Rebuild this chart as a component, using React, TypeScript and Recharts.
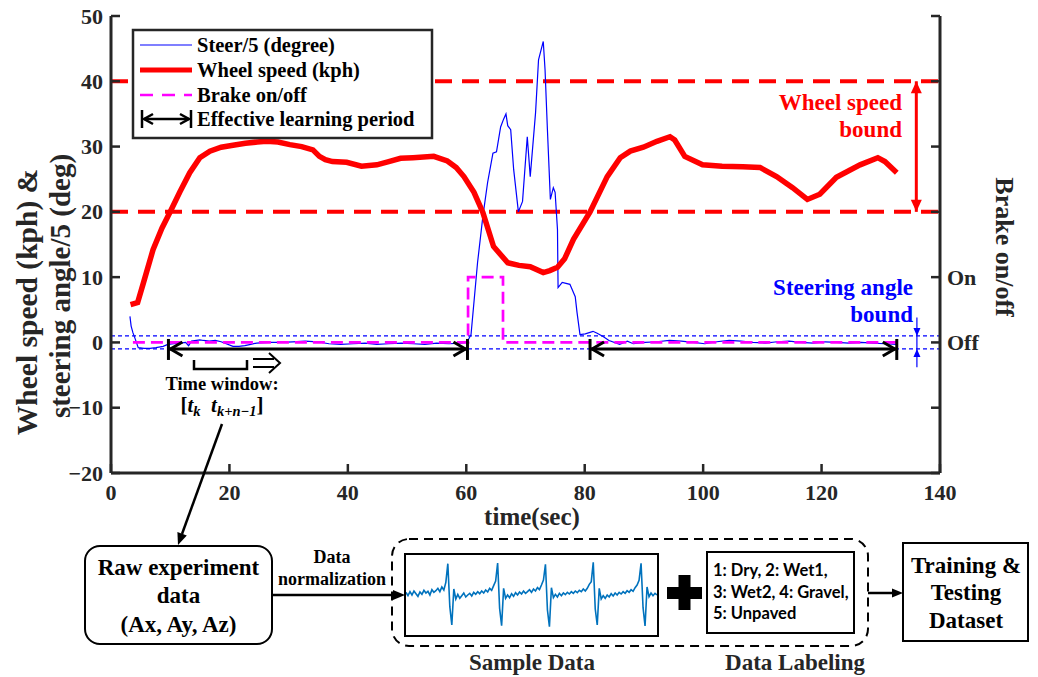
import React from "react";
import { LineChart, Line, XAxis, YAxis, ReferenceLine } from "recharts";

// ---- data ----
const xTicks = [0, 20, 40, 60, 80, 100, 120, 140];
const yTicks = [-20, -10, 0, 10, 20, 30, 40, 50];
const brakeTickLabels: Record<number, string> = { 10: "On", 0: "Off" };

const speedTime = [3.3, 4.5, 5.5, 7.1, 8.6, 10.0, 11.6, 13.3, 15.0, 16.7, 18.6, 20.6, 22.7, 24.7, 26.3, 28.2, 30.2, 32.2, 34.1, 35.2, 36.2, 37.4, 39.8, 42.3, 44.9, 46.9, 48.9, 51.0, 54.5, 56.8, 58.3, 59.6, 61.3, 62.8, 64.6, 67.0, 68.9, 70.8, 73.0, 74.1, 75.4, 76.6, 78.1, 80.9, 83.8, 86.0, 87.7, 89.9, 92.2, 94.4, 95.2, 96.9, 99.9, 103.2, 106.7, 109.6, 112.4, 115.1, 117.6, 119.7, 122.5, 126.5, 129.5, 130.7, 132.7];
const speedKph = [5.8, 6.1, 9.2, 14.2, 17.5, 20, 23, 26, 28.3, 29.3, 29.9, 30.2, 30.5, 30.7, 30.8, 30.7, 30.3, 30.0, 29.5, 28.5, 28.0, 27.7, 27.6, 27.0, 27.2, 27.7, 28.2, 28.3, 28.5, 27.8, 26.8, 25.4, 23.0, 19.9, 14.7, 12.2, 11.8, 11.6, 10.7, 11.0, 11.5, 12.8, 15.8, 20.0, 25.4, 28.3, 29.3, 29.9, 30.8, 31.5, 31.0, 28.5, 27.2, 27.0, 26.9, 26.8, 25.4, 23.7, 21.9, 22.7, 25.3, 27.2, 28.3, 27.7, 26.0];

const steerTime = [3.2, 3.4, 3.7, 4.1, 4.6, 5.6, 6.6, 7.6, 8.8, 9.6, 10.6, 11.6, 12.6, 13.1, 13.6, 15.0, 15.6, 16.6, 17.6, 18.6, 20.6, 21.6, 22.6, 23.6, 24.6, 26.7, 28.7, 30.7, 32.8, 34.8, 36.8, 38.8, 40.9, 42.9, 44.9, 46.9, 49.0, 51.0, 53.0, 55.0, 57.1, 59.1, 60.1, 60.8, 61.9, 62.8, 63.6, 64.5, 65.1, 65.8, 66.3, 66.7, 67.0, 67.5, 68.0, 68.8, 69.5, 70.3, 70.8, 71.7, 72.2, 73.0, 73.3, 73.7, 74.2, 74.7, 75.0, 75.4, 75.5, 76.2, 77.5, 78.4, 78.7, 79.2, 80.1, 81.4, 82.1, 83.1, 84.1, 85.9, 87.2, 88.2, 90.2, 92.2, 94.3, 96.3, 98.3, 100.3, 102.3, 104.4, 106.4, 108.4, 110.5, 112.5, 114.5, 116.5, 118.6, 120.6, 122.6, 124.6, 126.7, 128.7, 130.7, 132.7];
const steerDeg5 = [4.0, 2.5, 1.5, 0.5, -0.8, -0.9, -0.9, -0.8, -0.6, -0.3, -0.2, -0.1, 0.0, -0.5, 0.2, 0.4, 0.3, 0.2, 0.3, 0.1, -0.6, -0.6, -0.5, -0.3, -0.1, 0.0, 0.0, 0.1, 0.2, 0.1, -0.2, -0.3, -0.2, -0.1, -0.3, -0.2, -0.1, -0.2, -0.3, -0.1, -0.2, -0.1, 0.0, 1.2, 12.2, 19.3, 24.5, 29.0, 29.2, 33.0, 34.2, 35.0, 33.2, 32.6, 26.5, 20.0, 21.6, 31.5, 25.4, 35.2, 43.3, 46.1, 41.8, 32.6, 21.9, 23.7, 23.0, 17.3, 8.4, 9.2, 8.9, 7.0, 4.6, 1.2, 1.3, 1.7, 1.4, 0.9, 0.3, -0.3, 0.2, -0.2, 0.0, 0.1, 0.3, 0.2, 0.0, -0.2, 0.1, 0.3, 0.2, 0.0, -0.1, 0.1, 0.2, 0.0, -0.1, 0.1, 0.0, -0.1, 0.0, -0.1, -0.2, -0.3];

const brakeTime = [3.7, 60.3, 66.2, 132.7];
const brakeState = [0, 10, 0, 0];

const speedBounds = [40, 20];
const steerBounds = [1, -1];
const learningPeriods = [[9.7, 60.2], [80.9, 132.7]];

const sampleSignal = [
  0.08, -0.02, 0.1, 0.0, 0.12, 0.04, -0.04, 0.09, 0.02, 0.14, 0.06, 0.11, 0.0, 0.16, 0.08, 0.13, 0.2, 0.1, 0.24, 0.15,
  0.38, 0.94, -0.35, -0.9, 0.18, -0.12,
  0.02, -0.1, -0.02, 0.06, -0.06, 0.0, 0.05, -0.03, 0.08, 0.02, 0.1, 0.04, 0.12, 0.06, 0.15, 0.09, 0.2, 0.14,
  0.28, 0.42, 0.96, -0.4, -0.92, 0.2,
  -0.1, 0.0, -0.08, 0.04, -0.04, 0.07, 0.0, 0.09, 0.03, 0.12, 0.05, 0.1, 0.16, 0.08, 0.18, 0.12, 0.22, 0.16,
  0.3, 0.45, 0.92, -0.45, -0.95, 0.22,
  -0.08, 0.02, -0.06, 0.05, -0.02, 0.06, 0.01, 0.08, 0.03, 0.1, 0.05, 0.12, 0.07, 0.14, 0.1, 0.18, 0.12, 0.2,
  0.32, 0.4, 0.98, -0.42, -0.9, 0.2,
  -0.12, -0.02, -0.1, 0.0, -0.06, 0.04, -0.03, 0.06, 0.0, 0.08, 0.03, 0.1, 0.05, 0.13, 0.08, 0.16, 0.11, 0.22,
  0.3, 0.44, 0.95, -0.38, -0.93, 0.24,
  -0.05, 0.06, -0.02, 0.05, 0.0,
];
const labelLines = ["1: Dry, 2: Wet1,", "3: Wet2, 4: Gravel,", "5: Unpaved"];

// ---- tables for recharts ----
const zip = (ts: number[], vs: number[]) => ts.map((t, i) => ({ t, v: vs[i] }));
const speedData = zip(speedTime, speedKph);
const steerData = zip(steerTime, steerDeg5);
const brakeData = zip(brakeTime, brakeState);
const speedArrowData = speedBounds.map((v) => ({ t: 136, v }));
const steerArrowData = [3.8, ...steerBounds, -3.8].map((v) => ({ t: 136.1, v }));
const sampleData = sampleSignal.map((v, i) => ({ i, v }));

const SERIF = "Liberation Serif";
const INK = "#262626";
const RED = "#FF0000";
const BLUE = "#0000FF";
const MAGENTA = "#FF00FF";
const fmt = (n: number) => (n < 0 ? "\u2212" + Math.abs(n) : String(n));

const serifStyle = { fontFamily: SERIF, fontWeight: 700 };
const txt = { style: serifStyle, fill: INK };

const BottomTick = (p: any) => {
  const ay = p.y - 10;
  return (
    <g>
      <line x1={p.x} x2={p.x} y1={ay} y2={ay - 9} stroke={INK} strokeWidth={2.5} />
      <text x={p.x} y={ay + 27} textAnchor="middle" fontSize={22} {...txt}>{fmt(p.payload.value)}</text>
    </g>
  );
};
const TopTick = (p: any) => {
  const ay = p.y + 10;
  return <line x1={p.x} x2={p.x} y1={ay} y2={ay + 9} stroke={INK} strokeWidth={2.5} />;
};
const LeftTick = (p: any) => {
  const ax = p.x + 10;
  return (
    <g>
      <line x1={ax} x2={ax + 9} y1={p.y} y2={p.y} stroke={INK} strokeWidth={2.5} />
      <text x={ax - 8} y={p.y + 7.5} textAnchor="end" fontSize={22} {...txt}>{fmt(p.payload.value)}</text>
    </g>
  );
};
const RightTick = (p: any) => {
  const ax = p.x - 10;
  const label = brakeTickLabels[p.payload.value];
  return (
    <g>
      <line x1={ax} x2={ax - 9} y1={p.y} y2={p.y} stroke={INK} strokeWidth={2.5} />
      {label && <text x={ax + 7} y={p.y + 7.5} textAnchor="start" fontSize={22} {...txt}>{label}</text>}
    </g>
  );
};

const PeriodEnd = (p: any) => {
  const { cx, cy, index } = p;
  const s = index === 0 ? 1 : -1;
  return (
    <g key={`pe-${index}-${cx}`}>
      <line x1={cx} x2={cx} y1={cy - 10} y2={cy + 11} stroke="#000" strokeWidth={3} />
      <polyline points={`${cx + s * 14},${cy - 7} ${cx + s * 2},${cy} ${cx + s * 14},${cy + 7}`} fill="none" stroke="#000" strokeWidth={3} />
    </g>
  );
};
const SpeedHead = (p: any) => {
  const { cx, cy, index } = p;
  const s = index === 0 ? 1 : -1;
  return <polygon key={`sh-${index}`} points={`${cx},${cy} ${cx - 5.5},${cy + s * 12} ${cx + 5.5},${cy + s * 12}`} fill={RED} />;
};
const SteerHead = (p: any) => {
  const { cx, cy, index } = p;
  if (index !== 1 && index !== 2) return <g key={`st-${index}`} />;
  const s = index === 1 ? -1 : 1;
  return <polygon key={`st-${index}`} points={`${cx},${cy} ${cx - 3.5},${cy + s * 8} ${cx + 3.5},${cy + s * 8}`} fill={BLUE} />;
};

function MainChart() {
  return (
    <LineChart width={1038} height={677} margin={{ top: 16, right: 38, bottom: 174, left: 51 }}>
      <XAxis xAxisId="b" dataKey="t" type="number" domain={[0, 140]} ticks={xTicks} interval={0} height={30}
        tickSize={0} tickMargin={10} tickLine={false} tick={BottomTick} axisLine={{ stroke: INK, strokeWidth: 3 }} allowDataOverflow />
      <XAxis xAxisId="t" orientation="top" dataKey="t" type="number" domain={[0, 140]} ticks={xTicks} interval={0} height={0}
        tickSize={0} tickMargin={10} tickLine={false} tick={TopTick} axisLine={{ stroke: INK, strokeWidth: 3 }} allowDataOverflow />
      <YAxis yAxisId="l" type="number" domain={[-20, 50]} ticks={yTicks} interval={0} width={60}
        tickSize={0} tickMargin={10} tickLine={false} tick={LeftTick} axisLine={{ stroke: INK, strokeWidth: 3 }} allowDataOverflow />
      <YAxis yAxisId="r" orientation="right" type="number" domain={[-20, 50]} ticks={yTicks} interval={0} width={60}
        tickSize={0} tickMargin={10} tickLine={false} tick={RightTick} axisLine={{ stroke: INK, strokeWidth: 3 }} allowDataOverflow />

      {speedBounds.map((b) => (
        <ReferenceLine key={`sb${b}`} xAxisId="b" yAxisId="l" y={b} stroke={RED} strokeWidth={4} strokeDasharray="17 10" />
      ))}
      {steerBounds.map((b) => (
        <ReferenceLine key={`tb${b}`} xAxisId="b" yAxisId="l" y={b} stroke={BLUE} strokeWidth={1.2} strokeDasharray="4 3" />
      ))}

      <Line xAxisId="b" yAxisId="l" data={steerData} dataKey="v" stroke={BLUE} strokeWidth={1.2} dot={false} activeDot={false} isAnimationActive={false} />
      <Line xAxisId="b" yAxisId="l" data={speedData} dataKey="v" stroke={RED} strokeWidth={5.5} dot={false} activeDot={false} isAnimationActive={false} />
      <Line xAxisId="b" yAxisId="l" data={brakeData} dataKey="v" type="stepAfter" stroke={MAGENTA} strokeWidth={2.7} strokeDasharray="12 6" dot={false} activeDot={false} isAnimationActive={false} />

      {learningPeriods.map(([a, b], k) => (
        <Line key={`lp${k}`} xAxisId="b" yAxisId="l" data={[{ t: a, v: -1 }, { t: b, v: -1 }]} dataKey="v" stroke="#000" strokeWidth={3}
          dot={PeriodEnd} activeDot={false} isAnimationActive={false} />
      ))}
      <Line xAxisId="b" yAxisId="l" data={speedArrowData} dataKey="v" stroke={RED} strokeWidth={3} dot={SpeedHead} activeDot={false} isAnimationActive={false} />
      <Line xAxisId="b" yAxisId="l" data={steerArrowData} dataKey="v" stroke={BLUE} strokeWidth={1.2} dot={SteerHead} activeDot={false} isAnimationActive={false} />
    </LineChart>
  );
}

function SampleChart() {
  return (
    <LineChart width={251} height={80} data={sampleData} margin={{ top: 0, right: 0, bottom: 0, left: 0 }}>
      <XAxis dataKey="i" type="number" domain={[0, sampleSignal.length - 1]} hide />
      <YAxis type="number" domain={[-1.2, 1.2]} hide />
      <Line dataKey="v" stroke="#0072BD" strokeWidth={1.6} dot={false} activeDot={false} isAnimationActive={false} />
    </LineChart>
  );
}

function Overlay() {
  const black = { style: serifStyle, fill: "#000" };
  return (
    <svg width={1038} height={677} style={{ position: "absolute", left: 0, top: 0, pointerEvents: "none" }}>
      {/* legend */}
      <rect x={133} y={30} width={299} height={108} fill="#fff" stroke={INK} strokeWidth={2.5} />
      <line x1={140} x2={192} y1={45} y2={45} stroke={BLUE} strokeWidth={1.2} />
      <line x1={140} x2={192} y1={70} y2={70} stroke={RED} strokeWidth={5} />
      <line x1={140} x2={192} y1={95} y2={95} stroke={MAGENTA} strokeWidth={2.7} strokeDasharray="13 9" />
      <line x1={142} x2={142} y1={110} y2={128} stroke="#000" strokeWidth={2.5} />
      <line x1={191} x2={191} y1={110} y2={128} stroke="#000" strokeWidth={2.5} />
      <line x1={144} x2={189} y1={119} y2={119} stroke="#000" strokeWidth={2.5} />
      <polyline points="153,114 144,119 153,124" fill="none" stroke="#000" strokeWidth={2.5} />
      <polyline points="180,114 189,119 180,124" fill="none" stroke="#000" strokeWidth={2.5} />
      {["Steer/5 (degree)", "Wheel speed (kph)", "Brake on/off", "Effective learning period"].map((s, i) => (
        <text key={s} x={197} y={[45, 70, 95, 119][i] + 7} fontSize={20.5} {...black}>{s}</text>
      ))}

      {/* axis titles */}
      <text x={532} y={525} textAnchor="middle" fontSize={25} {...txt}>time(sec)</text>
      <text transform="translate(27,302) rotate(-90)" textAnchor="middle" dy="0.35em" fontSize={29.5} {...txt}>Wheel speed (kph) &amp;</text>
      <text transform="translate(60,286) rotate(-90)" textAnchor="middle" dy="0.35em" fontSize={29} {...txt}>steering angle/5 (deg)</text>
      <text transform="translate(1005,247) rotate(90)" textAnchor="middle" dy="0.35em" fontSize={26} {...txt}>Brake on/off</text>

      {/* annotations */}
      <text x={902} y={110} textAnchor="end" fontSize={23} style={serifStyle} fill={RED}>Wheel speed</text>
      <text x={902} y={137} textAnchor="end" fontSize={23} style={serifStyle} fill={RED}>bound</text>
      <text x={913} y={295} textAnchor="end" fontSize={23} style={serifStyle} fill={BLUE}>Steering angle</text>
      <text x={913} y={322} textAnchor="end" fontSize={23} style={serifStyle} fill={BLUE}>bound</text>

      {/* time window */}
      <polyline points="194,360 194,369 247,369 247,360" fill="none" stroke="#000" strokeWidth={2.5} />
      <line x1={253} x2={274} y1={359} y2={359} stroke="#000" strokeWidth={2} />
      <line x1={253} x2={274} y1={367} y2={367} stroke="#000" strokeWidth={2} />
      <polyline points="269,353 280,363 269,373" fill="none" stroke="#000" strokeWidth={2} />
      <text x={222} y={390} textAnchor="middle" fontSize={18.5} {...black}>Time window:</text>
      <text x={222} y={412} textAnchor="middle" fontSize={21} {...black}>
        <tspan>[</tspan>
        <tspan fontStyle="italic">t</tspan>
        <tspan fontStyle="italic" fontSize={14.5} dy={4}>k</tspan>
        <tspan dy={-4}>{"\u2002"}</tspan>
        <tspan fontStyle="italic">t</tspan>
        <tspan fontStyle="italic" fontSize={14.5} dy={4}>{"k+n\u22121"}</tspan>
        <tspan dy={-4}>]</tspan>
      </text>
      <line x1={222} y1={424} x2={182} y2={534} stroke="#000" strokeWidth={2.5} />
      <polygon points="178,545 186.8,535.4 177.4,532" fill="#000" />

      {/* flow chart */}
      <rect x={85} y={546} width={187} height={98} rx={15} fill="#fff" stroke="#000" strokeWidth={2} />
      <text x={178.5} y={575} textAnchor="middle" fontSize={23} {...black}>Raw experiment</text>
      <text x={178.5} y={603} textAnchor="middle" fontSize={23} {...black}>data</text>
      <text x={178.5} y={632} textAnchor="middle" fontSize={23} {...black}>(Ax, Ay, Az)</text>

      <text x={332} y={563} textAnchor="middle" fontSize={18} {...black}>Data</text>
      <text x={332} y={585} textAnchor="middle" fontSize={18} {...black}>normalization</text>
      <line x1={272} x2={394} y1={595} y2={595} stroke="#000" strokeWidth={2.5} />
      <polygon points="405,595 393,590 393,600" fill="#000" />

      <rect x={392} y={539} width={476} height={107} rx={17} fill="none" stroke="#000" strokeWidth={2} strokeDasharray="9 6" />
      <rect x={405} y={554} width={253} height={82} fill="none" stroke="#000" strokeWidth={2} />

      <rect x={667} y={587} width={35} height={12} fill="#000" />
      <rect x={678.5} y={575} width={12} height={35} fill="#000" />

      <rect x={707} y={552} width={147} height={81} fill="#fff" stroke="#000" strokeWidth={2} />
      {labelLines.map((s, i) => (
        <text key={s} x={713} y={576 + i * 21.5} fontSize={16.5} style={{ fontFamily: "Lato", fontWeight: 700 }} fill="#000">{s}</text>
      ))}

      <line x1={868} x2={894} y1={593} y2={593} stroke="#000" strokeWidth={2.5} />
      <polygon points="903,593 892,588.5 892,597.5" fill="#000" />

      <rect x={903} y={543} width={125} height={98} fill="#fff" stroke="#000" strokeWidth={2} />
      <text x={966} y={573} textAnchor="middle" fontSize={23} {...black}>Training &amp;</text>
      <text x={966} y={600} textAnchor="middle" fontSize={23} {...black}>Testing</text>
      <text x={966} y={628} textAnchor="middle" fontSize={23} {...black}>Dataset</text>

      <text x={532} y={670} textAnchor="middle" fontSize={23} {...txt}>Sample Data</text>
      <text x={795} y={670} textAnchor="middle" fontSize={23} {...txt}>Data Labeling</text>
    </svg>
  );
}

export default function App() {
  return (
    <div style={{ position: "absolute", left: 0, top: 0, width: 1038, height: 677, background: "#fff", overflow: "hidden" }}>
      <div style={{ position: "absolute", left: 0, top: 0 }}>
        <MainChart />
      </div>
      <div style={{ position: "absolute", left: 406, top: 555 }}>
        <SampleChart />
      </div>
      <Overlay />
    </div>
  );
}
